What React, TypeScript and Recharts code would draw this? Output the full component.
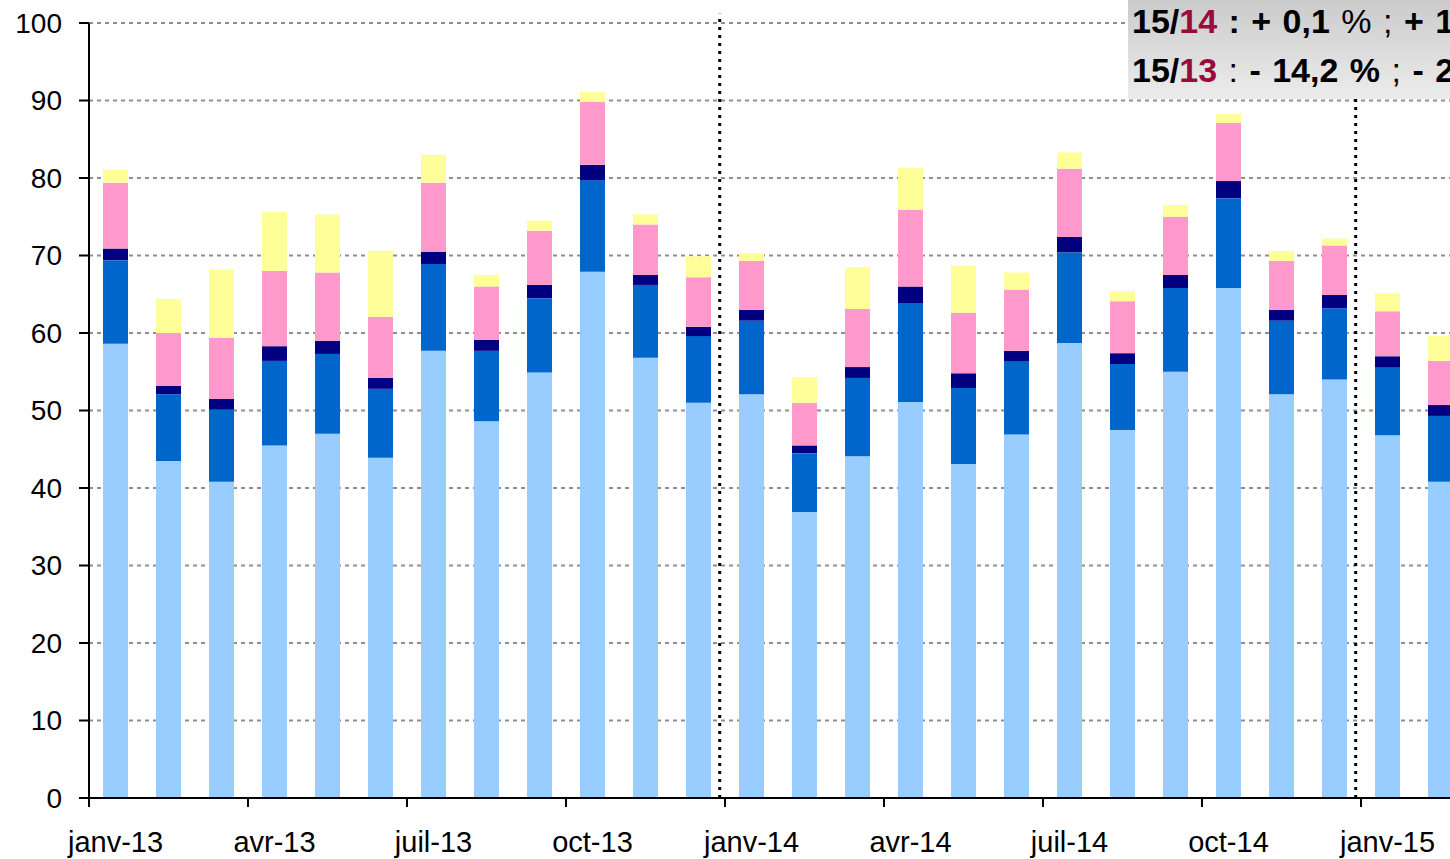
import { BarChart, Bar, XAxis, YAxis, CartesianGrid, ReferenceLine } from "recharts";

const months = [
  "janv-13", "févr-13", "mars-13", "avr-13", "mai-13", "juin-13",
  "juil-13", "août-13", "sept-13", "oct-13", "nov-13", "déc-13",
  "janv-14", "févr-14", "mars-14", "avr-14", "mai-14", "juin-14",
  "juil-14", "août-14", "sept-14", "oct-14", "nov-14", "déc-14",
  "janv-15", "févr-15",
];

// stacked from bottom to top
const lightBlue = [58.6, 43.5, 40.8, 45.5, 47.0, 43.9, 57.7, 48.6, 54.9, 67.9, 56.8, 51.0, 52.1, 36.9, 44.1, 51.1, 43.1, 46.9, 58.7, 47.5, 55.0, 65.8, 52.1, 54.0, 46.8, 40.8];
const blue = [10.8, 8.6, 9.3, 10.9, 10.3, 8.9, 11.2, 9.1, 9.6, 11.8, 9.4, 8.6, 9.5, 7.6, 10.1, 12.7, 9.8, 9.4, 11.7, 8.5, 10.8, 11.6, 9.5, 9.2, 8.8, 8.5];
const navy = [1.5, 1.1, 1.4, 1.9, 1.7, 1.4, 1.6, 1.4, 1.7, 2.0, 1.3, 1.2, 1.4, 1.0, 1.4, 2.2, 1.9, 1.4, 2.0, 1.4, 1.7, 2.2, 1.4, 1.7, 1.4, 1.4];
const pink = [8.5, 6.8, 7.9, 9.7, 8.8, 7.9, 8.9, 6.9, 7.0, 8.1, 6.5, 6.4, 6.3, 5.5, 7.5, 9.9, 7.8, 7.9, 8.8, 6.7, 7.5, 7.5, 6.3, 6.4, 5.8, 5.7];
const yellow = [1.7, 4.4, 8.8, 7.6, 7.5, 8.5, 3.6, 1.5, 1.3, 1.3, 1.3, 2.7, 1.0, 3.3, 5.4, 5.4, 6.1, 2.2, 2.1, 1.3, 1.5, 1.2, 1.3, 0.9, 2.3, 3.2];

const yTicks = [0, 10, 20, 30, 40, 50, 60, 70, 80, 90, 100];
const quarterTicks = [0, 3, 6, 9, 12, 15, 18, 21, 24, 26];
// year separators, in month units on the numeric axis
const yearBreaks = [11.9, 23.9];

const data = months.map((m, i) => ({
  month: m,
  pos: i + 0.5,
  s1: lightBlue[i],
  s2: blue[i],
  s3: navy[i],
  s4: pink[i],
  s5: yellow[i],
}));

const FONT = "Arial, 'Liberation Sans', sans-serif";
const RED = "#9a0a3a";

const NoLabel = () => <g />;

export default function App() {
  return (
    <div style={{ position: "absolute", left: 0, top: 0, width: 1450, height: 859, overflow: "hidden", background: "#fff", fontFamily: FONT }}>
      <BarChart
        width={1467}
        height={859}
        data={data}
        barSize={25}
        margin={{ top: 23, right: 0, left: 0, bottom: 0 }}
      >
        <CartesianGrid xAxisId="b" vertical={false} stroke="#8f8f8f" strokeWidth={2} strokeDasharray="4 4" />
        <XAxis
          xAxisId="a"
          type="number"
          dataKey="pos"
          domain={[0, months.length]}
          ticks={quarterTicks}
          interval={0}
          allowDataOverflow
          height={1}
          tick={NoLabel}
          tickSize={9}
          tickLine={{ stroke: "#000", strokeWidth: 2 }}
          axisLine={{ stroke: "#000", strokeWidth: 2 }}
        />
        <XAxis
          xAxisId="b"
          dataKey="month"
          interval={2}
          height={60}
          axisLine={false}
          tickLine={false}
          tickMargin={26}
          tick={{ fill: "#000", fontSize: 29, fontFamily: FONT }}
        />
        <YAxis
          domain={[0, 100]}
          ticks={yTicks}
          width={89}
          interval={0}
          tickSize={10}
          tickMargin={17}
          tick={{ fill: "#000", fontSize: 28, fontFamily: FONT }}
          tickLine={{ stroke: "#000", strokeWidth: 2 }}
          axisLine={{ stroke: "#000", strokeWidth: 2 }}
        />
        <Bar xAxisId="b" dataKey="s1" stackId="a" fill="#99CCFF" isAnimationActive={false} />
        <Bar xAxisId="b" dataKey="s2" stackId="a" fill="#0066CC" isAnimationActive={false} />
        <Bar xAxisId="b" dataKey="s3" stackId="a" fill="#000080" isAnimationActive={false} />
        <Bar xAxisId="b" dataKey="s4" stackId="a" fill="#FF99CC" isAnimationActive={false} />
        <Bar xAxisId="b" dataKey="s5" stackId="a" fill="#FFFF99" isAnimationActive={false} />
        {yearBreaks.map((x) => (
          <ReferenceLine
            key={x}
            xAxisId="a"
            segment={[{ x, y: 0 }, { x, y: 101.2 }]}
            ifOverflow="visible"
            stroke="#000"
            strokeWidth={3}
            strokeDasharray="3 5"
          />
        ))}
      </BarChart>
      <div
        style={{
          position: "absolute",
          left: 1128,
          top: 0,
          width: 400,
          height: 99,
          background: "linear-gradient(#cbcbcb, #ececec)",
          overflow: "hidden",
        }}
      >
        <div style={{ position: "absolute", left: 4, top: -3, fontSize: 34, lineHeight: "49px", whiteSpace: "nowrap", wordSpacing: 2, color: "#000" }}>
          <div>
            <b>15/</b><b style={{ color: RED }}>14</b><b> : + 0,1 </b>% ; <b>+ 18</b>
          </div>
          <div>
            <b>15/</b><b style={{ color: RED }}>13</b> : <b>- 14,2 %</b> ; <b>- 20</b>
          </div>
        </div>
      </div>
    </div>
  );
}
